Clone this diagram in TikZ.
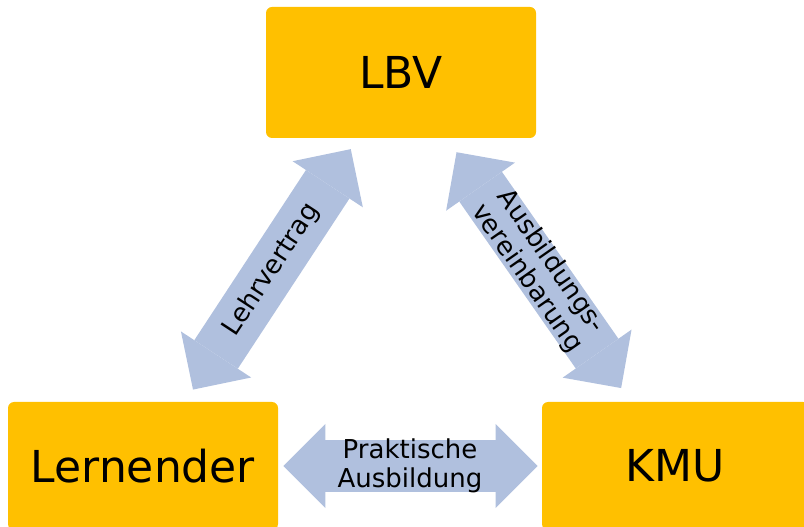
\documentclass[tikz,border=0pt]{standalone}
\usepackage{fontspec}
\setmainfont{DejaVu Sans}
\usetikzlibrary{arrows.meta}
\definecolor{boxgold}{RGB}{255,192,0}
\definecolor{linkblue}{RGB}{176,192,222}
\tikzset{
    box/.style={fill=boxgold, rounded corners=4.5pt, minimum width=202.5pt, inner sep=0pt, font=\fontsize{33}{40}\selectfont},
    tip/.style={Triangle[length=31.5pt, width=63pt, line width=0pt]},
    link/.style={linkblue, line width=39pt, {Triangle[length=31.5pt,width=63pt,line width=0pt]}-{Triangle[length=31.5pt,width=63pt,line width=0pt]}},
    tag/.style={midway, sloped, text=black, align=center, inner sep=0pt, font=\fontsize{19.5}{22}\selectfont}
}
\begin{document}
\begin{tikzpicture}[x=0.75pt,y=-0.75pt]
    \clip (0,0) rectangle (804,527);
    \node[box, minimum height=98.25pt] (lbv) at (401,72.5) {LBV};
    \node[box, minimum height=96pt] (lern) at (143,466) {Lernender};
    \node[box, minimum width=200.25pt, minimum height=96pt] (kmu) at (675.5,466) {KMU};
    \draw[link, shorten <=10.9pt, shorten >=9.75pt] (lern) to node[tag] {Lehrvertrag} (lbv);
    \draw[link, shorten <=12.75pt, shorten >=12.5pt] (lbv) to node[tag] {Ausbildungs-\\vereinbarung} (kmu);
    \draw[link, shorten <=3.75pt, shorten >=3pt] (lern) to node[tag] {Praktische\\Ausbildung} (kmu);
\end{tikzpicture}
\end{document}
